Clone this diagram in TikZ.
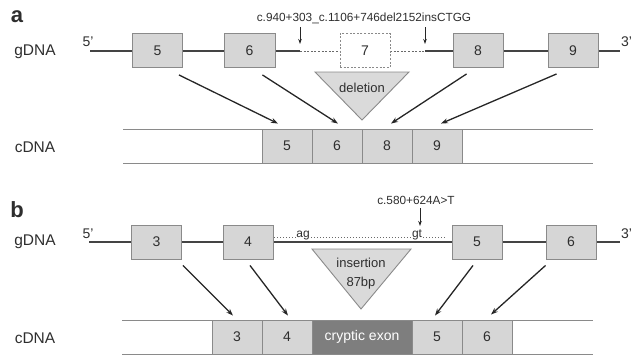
\documentclass[tikz,border=0pt]{standalone}
\usepackage{fontspec}
\setmainfont{Liberation Sans}
\usetikzlibrary{arrows.meta}
\definecolor{exonfill}{HTML}{D6D6D6}
\definecolor{exonedge}{HTML}{8A8A8A}
\definecolor{txt}{HTML}{2E2E2E}
\definecolor{dna}{HTML}{444444}
\definecolor{trifill}{HTML}{DADADA}
\definecolor{cryptic}{HTML}{7E7E7E}
\tikzset{
  exon/.style={draw=exonedge, fill=exonfill, line width=0.9pt, minimum width=50pt,
    minimum height=34pt, inner sep=0pt, text=txt, font=\fontsize{14}{14}\selectfont},
  delexon/.style={exon, fill=white, dash pattern=on 2pt off 1.6pt},
  strand/.style={draw=dna, line width=1.6pt},
  gapline/.style={draw=dna!80, line width=0.8pt, dash pattern=on 2pt off 1.6pt},
  dotline/.style={draw=dna!80, line width=0.9pt, dash pattern=on 1pt off 2pt},
  cdnaline/.style={draw=exonedge, line width=0.9pt},
  conn/.style={draw=black!85, line width=1.3pt, -{Stealth[length=7pt,width=5pt]}},
  mutarrow/.style={draw=black!85, line width=0.9pt, -{Stealth[length=5pt,width=3.5pt]}},
  tri/.style={draw=exonedge, fill=trifill, line width=0.9pt},
  lab/.style={text=txt, font=\fontsize{15.5}{15.5}\selectfont, inner sep=0pt},
  endlab/.style={text=txt, font=\fontsize{14}{14}\selectfont, inner sep=0pt},
  mut/.style={text=txt, font=\fontsize{11.8}{11.8}\selectfont, inner sep=0pt},
  panel/.style={text=txt, font=\fontsize{22}{22}\selectfont\bfseries, inner sep=0pt},
  small/.style={text=txt, font=\fontsize{13}{13}\selectfont, inner sep=0pt}
}
\begin{document}
\begin{tikzpicture}[x=1pt,y=-1pt]
\useasboundingbox (0,0) rectangle (632,357);

% ---------------- panel a ----------------
\node[panel] (pa) at (17,17) {a};
\node[lab] (ga) at (35,52) {gDNA};
\node[lab] (ca) at (35,147) {cDNA};
\node[endlab, anchor=south] (a5p) at (88,47) {5'};
\node[endlab, anchor=south west] (a3p) at (621,47) {3'};

\coordinate (aL) at (90,51);
\coordinate (aR) at (620,51);
\coordinate (aD1) at (300,51);
\coordinate (aD2) at (425,51);
\draw[strand] (aL) -- (aD1);
\draw[gapline] (aD1) -- (aD2);
\draw[strand] (aD2) -- (aR);

\node[exon] (ga5) at (157.5,50.5) {5};
\node[exon, minimum width=51pt] (ga6) at (249.5,50.5) {6};
\node[delexon] (ga7) at (365,50.5) {7};
\node[exon] (ga8) at (478,50.5) {8};
\node[exon] (ga9) at (573,50.5) {9};

\node[mut] (amut) at (364,18) {c.940+303\_c.1106+746del2152insCTGG};
\coordinate (am1) at (300,27);
\coordinate (am1e) at (300,44);
\coordinate (am2) at (425,27);
\coordinate (am2e) at (425,44);
\draw[mutarrow] (am1) -- (am1e);
\draw[mutarrow] (am2) -- (am2e);

\draw[tri] (315,72) -- (409,72) -- (362,120) -- cycle;
\node[small] (adel) at (362,88) {deletion};

\draw[cdnaline] (123,129) -- (593,129);
\draw[cdnaline] (123,163) -- (593,163);
\node[exon] (ca5) at (287,146) {5};
\node[exon] (ca6) at (337,146) {6};
\node[exon] (ca8) at (387,146) {8};
\node[exon] (ca9) at (437,146) {9};

\draw[conn] ([shift={(-4,7)}]ga5.south east) -- ([shift={(-9,-5)}]ca5.north);
\draw[conn] ([shift={(-13,7)}]ga6.south east) -- ([shift={(1,-5)}]ca6.north);
\draw[conn] ([shift={(14,6)}]ga8.south west) -- ([shift={(4,-5)}]ca8.north);
\draw[conn] ([shift={(9,6)}]ga9.south west) -- ([shift={(4,-5)}]ca9.north);

% ---------------- panel b ----------------
\node[panel] (pb) at (17,210) {b};
\node[lab] (gb) at (35,242) {gDNA};
\node[lab] (cb) at (35,338) {cDNA};
\node[endlab, anchor=south] (b5p) at (88,239) {5'};
\node[endlab, anchor=south west] (b3p) at (621,239) {3'};

\coordinate (bL) at (89,242);
\coordinate (bR) at (620,242);
\draw[strand] (bL) -- (bR);

\node[exon] (gb3) at (156.5,242) {3};
\node[exon] (gb4) at (248,242) {4};
\node[exon] (gb5) at (477,242) {5};
\node[exon] (gb6) at (571,242) {6};

\node[mut, font=\fontsize{12}{12}\selectfont, anchor=base] (ag) at (303,237) {ag};
\node[mut, font=\fontsize{12}{12}\selectfont, anchor=base] (gt) at (417,237) {gt};
\coordinate (dotS) at (274,237);
\coordinate (dotE) at (446,237);
\draw[dotline] (dotS) -- ([xshift=-1pt]ag.base west);
\draw[dotline] ([xshift=1pt]ag.base east) -- ([xshift=-1pt]gt.base west);
\draw[dotline] ([xshift=1pt]gt.base east) -- (dotE);

\node[mut] (bmut) at (416,200) {c.580+624A>T};
\coordinate (bm1) at (420,208);
\coordinate (bm2) at (420,226);
\draw[mutarrow] (bm1) -- (bm2);

\draw[tri] (312,249) -- (411,249) -- (361,309) -- cycle;
\node[small] (bins) at (361,263) {insertion};
\node[small] (bbp) at (361,283) {87bp};

\draw[cdnaline] (122,320) -- (593,320);
\draw[cdnaline] (122,354) -- (593,354);
\node[exon] (cb3) at (237,337) {3};
\node[exon] (cb4) at (287,337) {4};
\node[exon, fill=cryptic, minimum width=100pt, text=white] (cbx) at (362,337) {cryptic exon};
\node[exon] (cb5) at (437,337) {5};
\node[exon] (cb6) at (487,337) {6};

\draw[conn] ([shift={(1,6)}]gb3.south east) -- ([shift={(-4,-4)}]cb3.north);
\draw[conn] ([shift={(2,6)}]gb4.south) -- ([shift={(1,-4)}]cb4.north);
\draw[conn] ([shift={(-4,6)}]gb5.south) -- ([shift={(-2,-4)}]cb5.north);
\draw[conn] ([shift={(0,6)}]gb6.south west) -- ([shift={(4,-5)}]cb6.north);
\end{tikzpicture}
\end{document}
